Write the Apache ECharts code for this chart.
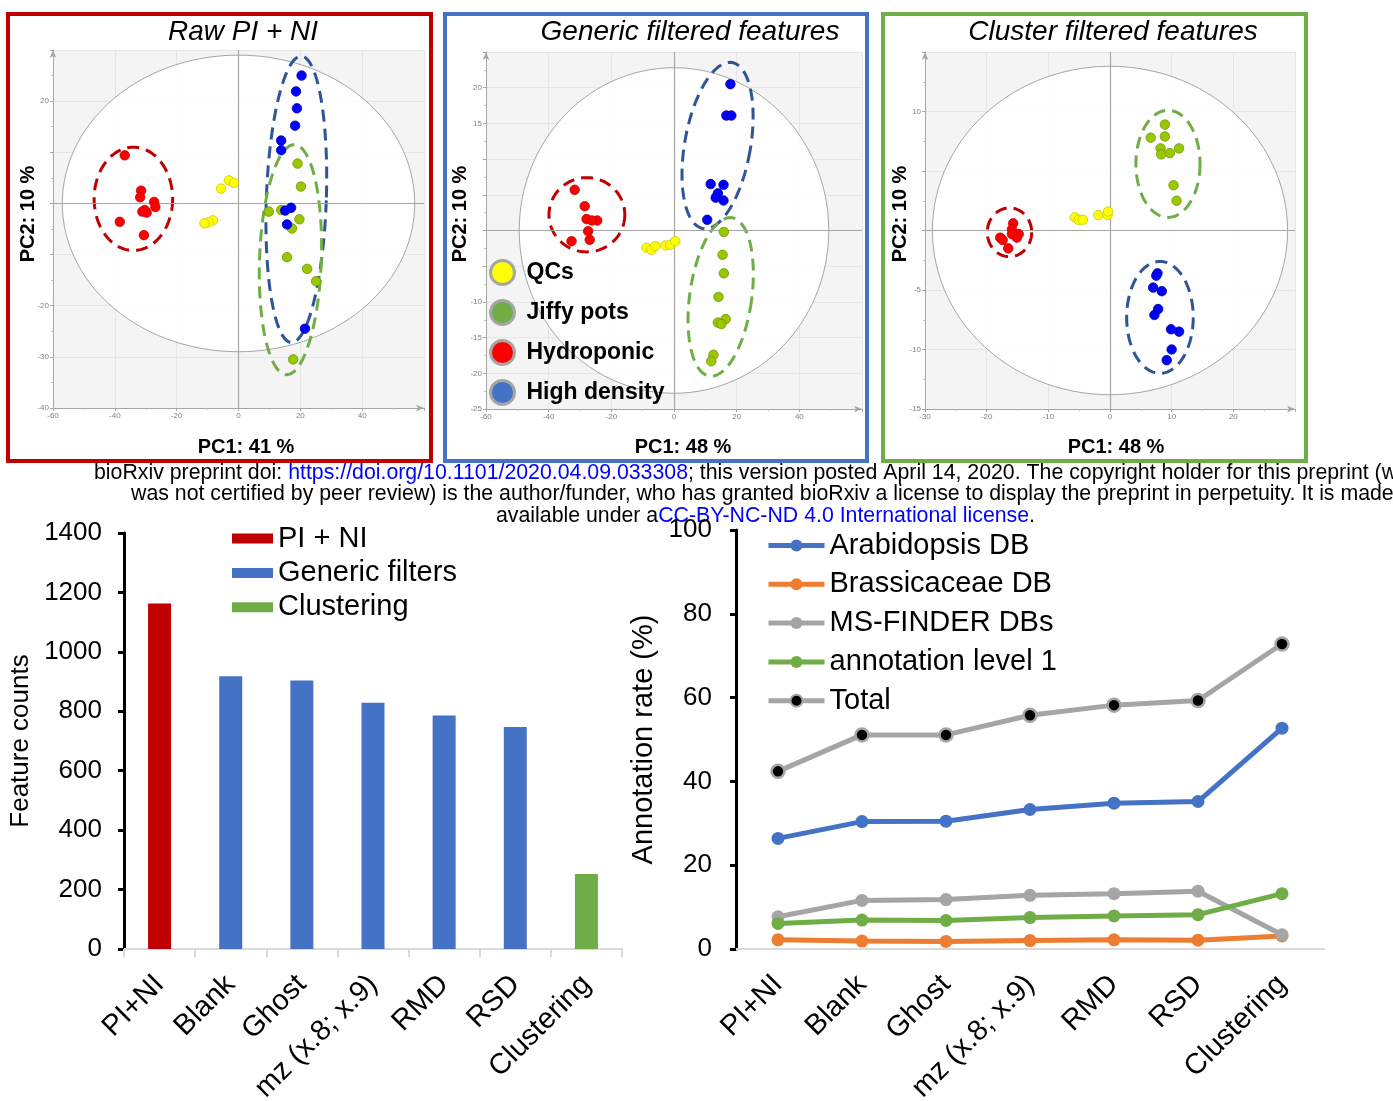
<!DOCTYPE html>
<html><head><meta charset="utf-8">
<script src="https://cdn.jsdelivr.net/npm/echarts@6/dist/echarts.min.js"></script>
<style>html,body{margin:0;padding:0;background:#fff}#c{width:1393px;height:1101px}</style>
</head><body><div id="c"></div>
<script>
const FF = 'Liberation Sans, Arial, sans-serif';

// ---------- PCA scores (PC1, PC2) ----------
const rawQC = [[-3.1,4.5],[-1.5,4.0],[-5.6,2.9],[-8.3,-3.3],[-9.7,-3.7],[-11.0,-3.9]];
const rawJiffy = [[19.1,7.8],[20.2,3.3],[9.8,-1.6],[13.8,-1.3],[19.7,-3.1],[17.3,-4.9],[15.7,-10.5],[22.2,-12.8],[25.1,-15.2],[17.7,-30.5]];
const rawHydro = [[-36.8,9.4],[-31.5,2.5],[-31.8,1.2],[-27.3,0.3],[-26.9,-0.7],[-30.3,-1.3],[-29.7,-1.8],[-31.1,-1.6],[-38.4,-3.6],[-30.6,-6.2]];
const rawHigh = [[20.4,25.0],[18.6,21.9],[18.9,18.6],[18.3,15.2],[13.8,12.3],[13.8,10.4],[17.0,-0.85],[15.1,-1.4],[15.7,-4.1],[21.5,-24.5]];

const genQC = [[-8.8,-2.4],[-7.2,-2.7],[-6.0,-2.2],[-2.7,-2.1],[-1.2,-2.0],[0.4,-1.5]];
const genJiffy = [[15.9,-0.2],[15.5,-3.4],[15.9,-6.0],[14.2,-9.3],[16.5,-12.4],[14.0,-12.9],[15.1,-13.1],[12.6,-17.4],[11.9,-18.3]];
const genHydro = [[-31.7,5.7],[-28.5,3.4],[-27.9,1.6],[-24.5,1.4],[-26.2,1.4],[-27.4,-0.1],[-32.7,-1.5],[-26.9,-1.3]];
const genHigh = [[18.0,20.5],[16.7,16.1],[18.3,16.1],[11.7,6.5],[15.8,6.4],[14.0,5.2],[13.3,4.6],[15.8,4.2],[10.6,1.5]];

const cluQC = [[-5.7,1.1],[-5.1,0.9],[-4.4,0.9],[-1.9,1.3],[-0.4,1.3],[-0.3,1.6]];
const cluJiffy = [[8.9,8.9],[6.6,7.8],[8.9,7.9],[8.2,6.9],[8.3,6.4],[9.7,6.5],[11.2,6.9],[10.3,3.8],[10.8,2.5]];
const cluHydro = [[-15.7,0.6],[-15.9,0.1],[-14.8,-0.3],[-17.8,-0.6],[-15.1,-0.6],[-17.4,-0.8],[-16.5,-1.5],[-15.9,-0.3]];
const cluHigh = [[7.7,-3.6],[7.5,-3.8],[7.0,-4.8],[8.4,-5.1],[7.8,-6.6],[7.2,-7.1],[9.9,-8.3],[11.2,-8.5],[10.0,-10.0],[9.2,-10.9]];

// ellipses: [centerPC1, centerPC2, semiAxisPC1, semiAxisPC2, tiltDeg]
const rawT2 = [0,0,57,29,0];
const genT2 = [0,0,49.4,22.8,0];
const cluT2 = [0,0,28.8,13.8,0];
const rawRings = {red:[-34,0.9,12.7,10.1,0], blue:[18.7,0.8,9.7,28,2], green:[16.8,-11,10,22.5,2]};
const genRings = {red:[-27.8,2.2,12.1,5.2,0], blue:[13.9,11.9,10.5,11.8,10], green:[14.9,-9.3,9.9,11.2,8]};
const cluRings = {red:[-16.3,-0.15,3.6,2.05,0], blue:[8.1,-7.3,5.4,4.7,0], green:[9.4,5.6,5.2,4.5,0]};

// ---------- bar chart ----------
const categories = ['PI+NI','Blank','Ghost','mz (x.8; x.9)','RMD','RSD','Clustering'];
const featureCounts = [1163, 918, 904, 829, 786, 747, 252];
const barGroup = ['PI + NI','Generic filters','Generic filters','Generic filters','Generic filters','Generic filters','Clustering'];

// ---------- line chart (annotation rate %) ----------
const arabidopsis = [26.4, 30.4, 30.5, 33.3, 34.8, 35.2, 52.7];
const brassicaceae = [2.2, 1.9, 1.8, 2.0, 2.2, 2.1, 3.1];
const msfinder = [7.7, 11.6, 11.8, 12.8, 13.2, 13.8, 3.4];
const level1 = [6.1, 6.9, 6.8, 7.5, 7.9, 8.2, 13.2];
const total = [42.4, 51.1, 51.1, 55.8, 58.2, 59.3, 72.8];

function pcaAxis(gi, min, max, interval, hidden) {
  return {type:'value', gridIndex:gi, min, max, interval,
    axisLine:{show:true, onZero:false, symbol:['none','arrow'], symbolSize:[5,8], lineStyle:{color:'#a6a6a6', width:1}},
    axisTick:{show:true, length:3, lineStyle:{color:'#a6a6a6'}},
    minorTick:{show:true, splitNumber:2, length:2, lineStyle:{color:'#bfbfbf'}},
    axisLabel:{fontSize:8, color:'#808080', margin:4, fontFamily:FF, formatter: v => hidden.includes(v) ? '' : String(v)},
    splitLine:{show:true, lineStyle:{color:'#e6e6e6', width:1}}};
}
function ell(gi, params, stroke, dash, fill, z, lw) {
  return {type:'custom', xAxisIndex:gi, yAxisIndex:gi, z, silent:true, clip:false,
    data:[params], encode:{x:0, y:1},
    renderItem:(p, api) => {
      const c = api.coord([api.value(0), api.value(1)]);
      const s = api.size([api.value(2), api.value(3)], [api.value(0), api.value(1)]);
      const a = api.value(4) * Math.PI / 180;
      const pts = [];
      for (let i = 0; i < 120; i++) {
        const t = i / 120 * Math.PI * 2;
        const ex = s[0] * Math.cos(t), ey = s[1] * Math.sin(t);
        pts.push([c[0] + ex*Math.cos(a) - ey*Math.sin(a), c[1] + ex*Math.sin(a) + ey*Math.cos(a)]);
      }
      return {type:'polygon', shape:{points:pts}, style:{stroke, lineWidth:lw, lineDash:dash, fill}};
    }};
}
function pts(name, gi, data, color, border) {
  return {type:'scatter', name, xAxisIndex:gi, yAxisIndex:gi, data, symbolSize:9.5, z:5, silent:true,
    itemStyle:{color, borderColor:border, borderWidth:0.8, opacity:1}};
}
function zeroLines(gi) {
  return {type:'line', xAxisIndex:gi, yAxisIndex:gi, data:[], z:2, silent:true,
    markLine:{silent:true, symbol:'none', animation:false, label:{show:false},
      lineStyle:{color:'#a6a6a6', width:1.2, type:'solid'}, data:[{xAxis:0},{yAxis:0}]}};
}
const C = {qc:['#ffff00','#c9c900'], jf:['#99c800','#6f9400'], hy:['#ff0000','#c00000'], hd:['#0000ff','#0000b0']};
const RING = {red:'#c00000', blue:'#2f5597', green:'#70ad47'};
const DASH = [12, 7];

function pcaSeries(gi, t2, rings, qc, jf, hy, hd) {
  return [
    ell(gi, t2, '#a6a6a6', null, 'rgba(255,255,255,0.85)', 1, 1),
    zeroLines(gi),
    ell(gi, rings.red, RING.red, DASH, 'none', 3, 3),
    ell(gi, rings.blue, RING.blue, DASH, 'none', 3, 3),
    ell(gi, rings.green, RING.green, DASH, 'none', 3, 3),
    pts('QCs', gi, qc, C.qc[0], C.qc[1]),
    pts('Jiffy pots', gi, jf, C.jf[0], C.jf[1]),
    pts('Hydroponic', gi, hy, C.hy[0], C.hy[1]),
    pts('High density', gi, hd, C.hd[0], C.hd[1])
  ];
}

const barColors = {'PI + NI':'#c00000', 'Generic filters':'#4472c4', 'Clustering':'#70ad47'};
const barSeries = Object.keys(barColors).map(g => ({
  type:'bar', name:g, xAxisIndex:3, yAxisIndex:3, stack:'b', barWidth:23,
  itemStyle:{color:barColors[g]},
  data: featureCounts.map((v, i) => barGroup[i] === g ? v : '-')
}));

function ln(name, data, color, mk, mkBorder, z) {
  return {type:'line', name, xAxisIndex:4, yAxisIndex:4, data, symbol:'circle', symbolSize:13, z,
    lineStyle:{color, width:5}, itemStyle:{color: mk || color, borderColor: mkBorder || color, borderWidth: mkBorder ? 2.5 : 0}};
}

const txt = (x, y, text, font, extra) => Object.assign({type:'text', x, y, silent:true,
  style:Object.assign({text, font, fill:'#000', align:'center', verticalAlign:'middle'}, extra || {})});
const vtxt = (x, y, text, font) => ({type:'text', x, y, rotation:Math.PI/2, silent:true,
  style:{text, font, fill:'#000', align:'center', verticalAlign:'middle'}});
const frame = (x, y, w, h, color) => ({type:'rect', silent:true, shape:{x, y, width:w, height:h},
  style:{fill:'none', stroke:color, lineWidth:4}});

const richStamp = {k:{fill:'#000', fontSize:21.3, fontFamily:FF}, u:{fill:'#0000ff', fontSize:21.3, fontFamily:FF}};
const stamp = (x, y, text) => ({type:'text', x, y, silent:true, style:{text, rich:richStamp, align:'left', verticalAlign:'middle'}});

const catLabel = {rotate:45, interval:0, fontSize:29, color:'#000', fontFamily:FF, margin:31};
const valLabel = {fontSize:26, color:'#000', fontFamily:FF, formatter: v => String(v)};
const G = {outerBoundsMode:'none', containLabel:false};

const option = {
  animation:false,
  backgroundColor:'#fff',
  grid:[
    Object.assign({left:53, top:50, width:371, height:358, show:true, backgroundColor:'#f4f4f4', borderWidth:0}, G),
    Object.assign({left:486, top:52, width:376, height:357, show:true, backgroundColor:'#f4f4f4', borderWidth:0}, G),
    Object.assign({left:925, top:52, width:370, height:357, show:true, backgroundColor:'#f4f4f4', borderWidth:0}, G),
    Object.assign({left:124, top:533, width:498, height:416}, G),
    Object.assign({left:736, top:530, width:588, height:419}, G)
  ],
  xAxis:[
    pcaAxis(0, -60, 60, 20, [60]),
    pcaAxis(1, -60, 60, 20, [60]),
    pcaAxis(2, -30, 30, 10, [30]),
    {type:'category', gridIndex:3, data:categories,
      axisLine:{lineStyle:{color:'#d9d9d9', width:2}},
      axisTick:{show:true, length:8, lineStyle:{color:'#d9d9d9', width:2}},
      axisLabel:catLabel},
    {type:'category', gridIndex:4, data:categories,
      axisLine:{lineStyle:{color:'#d9d9d9', width:2}},
      axisTick:{show:false},
      axisLabel:catLabel}
  ],
  yAxis:[
    pcaAxis(0, -40, 30, 10, [30,10,0,-10]),
    pcaAxis(1, -25, 25, 5, [25,10,5,0,-5]),
    pcaAxis(2, -15, 15, 5, [15,5,0]),
    {type:'value', gridIndex:3, min:0, max:1400, interval:200,
      axisLine:{show:true, lineStyle:{color:'#000', width:3}},
      axisTick:{show:true, length:6, lineStyle:{color:'#000', width:3}},
      splitLine:{show:false},
      axisLabel:Object.assign({margin:22}, valLabel),
      name:'Feature counts', nameLocation:'middle', nameGap:90,
      nameTextStyle:{fontSize:26, color:'#000', fontFamily:FF}},
    {type:'value', gridIndex:4, min:0, max:100, interval:20,
      axisLine:{show:true, lineStyle:{color:'#000', width:3}},
      axisTick:{show:true, length:6, lineStyle:{color:'#000', width:3}},
      splitLine:{show:false},
      axisLabel:Object.assign({margin:24}, valLabel),
      name:'Annotation rate (%)', nameLocation:'middle', nameGap:78,
      nameTextStyle:{fontSize:29, color:'#000', fontFamily:FF}}
  ],
  legend:[
    {orient:'vertical', left:489, top:259, padding:0, itemWidth:24, itemHeight:24, itemGap:13, icon:'circle', selectedMode:false,
      data:[
        {name:'QCs', itemStyle:{color:'#ffff00', borderColor:'#a6a6a6', borderWidth:3}},
        {name:'Jiffy pots', itemStyle:{color:'#70ad47', borderColor:'#a6a6a6', borderWidth:3}},
        {name:'Hydroponic', itemStyle:{color:'#ff0000', borderColor:'#a6a6a6', borderWidth:3}},
        {name:'High density', itemStyle:{color:'#4472c4', borderColor:'#a6a6a6', borderWidth:3}}
      ],
      textStyle:{fontSize:23, lineHeight:24, fontWeight:'bold', color:'#000', fontFamily:FF, padding:[0,0,0,7]}},
    {orient:'vertical', left:232, top:524, padding:0, itemWidth:41, itemHeight:10, itemGap:5.4, icon:'rect', selectedMode:false,
      data:['PI + NI','Generic filters','Clustering'],
      textStyle:{fontSize:29, lineHeight:20, padding:[8,0,0,0], color:'#000', fontFamily:FF}},
    {orient:'vertical', left:766, top:531, padding:0, itemWidth:56, itemHeight:15, itemGap:9.8, selectedMode:false,
      lineStyle:{width:5},
      data:['Arabidopsis DB','Brassicaceae DB','MS-FINDER DBs','annotation level 1','Total'],
      textStyle:{fontSize:29, lineHeight:28, color:'#000', fontFamily:FF}}
  ],
  series:[
    ...pcaSeries(0, rawT2, rawRings, rawQC, rawJiffy, rawHydro, rawHigh),
    ...pcaSeries(1, genT2, genRings, genQC, genJiffy, genHydro, genHigh),
    ...pcaSeries(2, cluT2, cluRings, cluQC, cluJiffy, cluHydro, cluHigh),
    ...barSeries,
    ln('Arabidopsis DB', arabidopsis, '#4472c4', null, null, 10),
    ln('Brassicaceae DB', brassicaceae, '#ed7d31', null, null, 11),
    ln('MS-FINDER DBs', msfinder, '#a5a5a5', null, null, 12),
    ln('annotation level 1', level1, '#70ad47', null, null, 13),
    ln('Total', total, '#a5a5a5', '#000', '#a5a5a5', 14)
  ],
  graphic:[
    frame(8, 14, 423, 447, '#c00000'),
    frame(445, 14, 422, 447, '#4472c4'),
    frame(883, 14, 423, 447, '#70ad47'),
    txt(243, 32, 'Raw PI + NI', 'italic 28px ' + FF),
    txt(690, 32, 'Generic filtered features', 'italic 28px ' + FF),
    txt(1113, 32, 'Cluster filtered features', 'italic 28px ' + FF),
    vtxt(28, 214, 'PC2: 10 %', 'bold 20px ' + FF),
    vtxt(460, 214, 'PC2: 10 %', 'bold 20px ' + FF),
    vtxt(900, 214, 'PC2: 10 %', 'bold 20px ' + FF),
    txt(246, 447, 'PC1: 41 %', 'bold 20px ' + FF),
    txt(683, 447, 'PC1: 48 %', 'bold 20px ' + FF),
    txt(1116, 447, 'PC1: 48 %', 'bold 20px ' + FF),
    stamp(94, 473, '{k|bioRxiv preprint doi: }{u|https://doi.org/10.1101/2020.04.09.033308}{k|; this version posted April 14, 2020. The copyright holder for this preprint (which}'),
    stamp(131, 494, '{k|was not certified by peer review) is the author/funder, who has granted bioRxiv a license to display the preprint in perpetuity. It is made}'),
    stamp(496, 516, '{k|available under a}{u|CC-BY-NC-ND 4.0 International license}{k|.}')
  ]
};
const chart = echarts.init(document.getElementById('c'), null, {renderer:'canvas'});
chart.setOption(option);
</script></body></html>
